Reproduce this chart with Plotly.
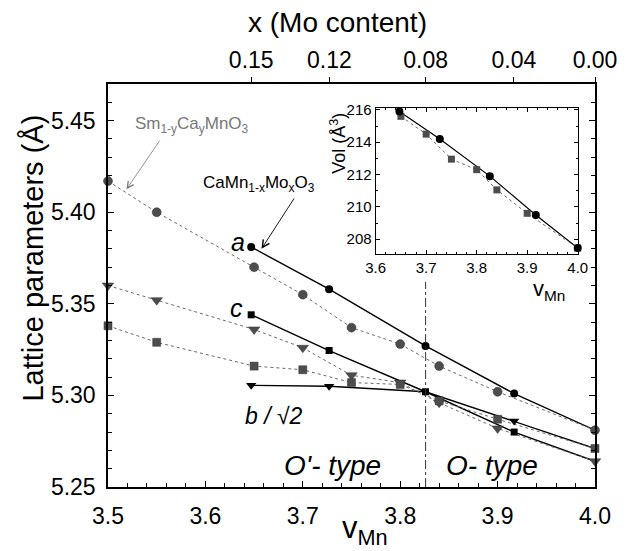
import plotly.graph_objects as go

# ---------------- data ----------------
# Sm(1-y)Ca(y)MnO3 series (gray, dotted)
sm_vmn = [3.50, 3.55, 3.65, 3.70, 3.75, 3.80, 3.84, 3.90, 4.00]
sm_a = [5.417, 5.400, 5.370, 5.355, 5.337, 5.328, 5.316, 5.302, 5.281]
sm_tri = [5.360, 5.352, 5.336, 5.326, 5.311, 5.307, 5.296, 5.282, 5.264]
sm_sq = [5.338, 5.329, 5.316, 5.314, 5.307, 5.306, 5.297, 5.287, 5.271]

# CaMn(1-x)Mo(x)O3 series (black, solid)
mo_vmn = [3.647, 3.727, 3.826, 3.917, 4.000]
mo_a = [5.381, 5.358, 5.327, 5.301, 5.281]
mo_c = [5.344, 5.3245, 5.302, 5.280, 5.264]
mo_b = [5.3055, 5.305, 5.302, 5.286, 5.271]

# top axis (Mo content)
mo_tick_labels = ["0.15", "0.12", "0.08", "0.04", "0.00"]
mo_tick_x = [0.15, 0.12, 0.08, 0.04, 0.00]

# inset: cell volume
inset_mo_vmn = [3.647, 3.727, 3.826, 3.917, 4.000]
inset_mo_vol = [215.9, 214.2, 211.9, 209.5, 207.45]
inset_sm_vmn = [3.65, 3.70, 3.75, 3.80, 3.84, 3.90, 4.00]
inset_sm_vol = [215.6, 214.5, 212.95, 212.3, 211.05, 209.6, 207.45]

FONT = "Liberation Sans, Arial, sans-serif"
GRAY = "#4d4d4d"
DOT = "#6a6a6a"

fig = go.Figure()

# Mo series lines (solid black)
for ys in (mo_a, mo_c, mo_b):
    fig.add_trace(go.Scatter(x=mo_vmn, y=ys, mode="lines",
                             line=dict(color="black", width=1.4),
                             hoverinfo="skip", showlegend=False))

# Sm series dotted lines + gray markers
for ys, sym, sz in ((sm_a, "circle", 9), (sm_tri, "triangle-down", 10), (sm_sq, "square", 8)):
    fig.add_trace(go.Scatter(x=sm_vmn, y=ys, mode="lines+markers",
                             line=dict(color=DOT, width=1, dash="dot"),
                             marker=dict(symbol=sym, size=sz, color=GRAY,
                                         line=dict(color="#333", width=0.5)),
                             cliponaxis=False, showlegend=False))

# Mo markers (black), not at x=0 (shared with CaMnO3)
fig.add_trace(go.Scatter(x=mo_vmn[:4], y=mo_a[:4], mode="markers",
                         marker=dict(symbol="circle", size=8, color="black"),
                         cliponaxis=False, showlegend=False))
fig.add_trace(go.Scatter(x=mo_vmn[:4], y=mo_c[:4], mode="markers",
                         marker=dict(symbol="square", size=7, color="black"),
                         cliponaxis=False, showlegend=False))
fig.add_trace(go.Scatter(x=[mo_vmn[i] for i in (0, 1, 3)], y=[mo_b[i] for i in (0, 1, 3)],
                         mode="markers",
                         marker=dict(symbol="triangle-down", size=9, color="black"),
                         cliponaxis=False, showlegend=False))

# invisible trace on top axis
fig.add_trace(go.Scatter(x=[3.5, 4.0], y=[5.25, 5.25], xaxis="x2", mode="markers",
                         marker=dict(opacity=0), hoverinfo="skip", showlegend=False))

# inset traces
fig.add_trace(go.Scatter(x=inset_mo_vmn, y=inset_mo_vol, xaxis="x3", yaxis="y3",
                         mode="lines", line=dict(color="black", width=1.2),
                         showlegend=False))
fig.add_trace(go.Scatter(x=inset_sm_vmn, y=inset_sm_vol, xaxis="x3", yaxis="y3",
                         mode="lines+markers", line=dict(color=DOT, width=1, dash="dot"),
                         marker=dict(symbol="square", size=7, color=GRAY),
                         cliponaxis=False, showlegend=False))
fig.add_trace(go.Scatter(x=inset_mo_vmn, y=inset_mo_vol, xaxis="x3", yaxis="y3",
                         mode="markers", marker=dict(symbol="circle", size=8, color="black"),
                         cliponaxis=False, showlegend=False))

top_vals = [(4 - 6 * x) / (1 - x) for x in mo_tick_x]

axis_common = dict(showgrid=False, zeroline=False, linecolor="black", linewidth=1.5,
                   tickcolor="black", tickfont=dict(family=FONT, size=23, color="black"))

fig.update_layout(
    width=629, height=551,
    margin=dict(l=108, r=23, t=84, b=64),
    plot_bgcolor="white", paper_bgcolor="white",
    font=dict(family=FONT, color="black"),
    xaxis=dict(range=[3.5, 4.0], tickvals=[3.5, 3.6, 3.7, 3.8, 3.9, 4.0],
               ticktext=["3.5", "3.6", "3.7", "3.8", "3.9", "4.0"],
               ticks="inside", ticklen=6, mirror=True, ticklabelstandoff=8,
               minor=dict(dtick=0.02, ticks="inside", ticklen=4, tickcolor="black"),
               **axis_common),
    yaxis=dict(range=[5.25, 5.47], tickvals=[5.25, 5.30, 5.35, 5.40, 5.45],
               ticktext=["5.25", "5.30", "5.35", "5.40", "5.45"],
               ticks="inside", ticklen=6, mirror="ticks", ticklabelstandoff=6,
               minor=dict(dtick=0.01, ticks="inside", ticklen=4, tickcolor="black"),
               **axis_common),
    xaxis2=dict(overlaying="x", side="top", range=[3.5, 4.0], anchor="y",
                tickvals=top_vals, ticktext=mo_tick_labels,
                ticks="outside", ticklen=6, showline=False, **axis_common),
    xaxis3=dict(domain=[0.5496, 0.9645], anchor="y3", range=[3.6, 4.0],
                tickvals=[3.6, 3.7, 3.8, 3.9, 4.0],
                ticktext=["3.6", "3.7", "3.8", "3.9", "4.0"],
                ticks="inside", ticklen=4, mirror="ticks",
                minor=dict(dtick=0.02, ticks="inside", ticklen=2, tickcolor="black"),
                showgrid=False, zeroline=False, linecolor="black", linewidth=1,
                tickcolor="black", tickfont=dict(family=FONT, size=15, color="black")),
    yaxis3=dict(domain=[0.5777, 0.9398], anchor="x3", range=[207.07, 216.1],
                tickvals=[208, 210, 212, 214, 216],
                ticktext=["208", "210", "212", "214", "216"],
                ticks="inside", ticklen=4, mirror="ticks",
                minor=dict(dtick=1, ticks="inside", ticklen=2, tickcolor="black"),
                showgrid=False, zeroline=False, linecolor="black", linewidth=1,
                tickcolor="black", tickfont=dict(family=FONT, size=15, color="black")),
)

# inset background
fig.add_shape(type="rect", xref="paper", yref="paper", x0=0.5496, x1=0.9645,
              y0=0.5777, y1=0.9398, fillcolor="white", line=dict(width=0), layer="below")

# vertical dash-dot boundary at x = 0.08
fig.add_shape(type="line", xref="x", yref="y", x0=top_vals[2], x1=top_vals[2],
              y0=5.25, y1=5.362, line=dict(color="#333", width=1, dash="dashdot"))


def px(xp, yp):
    return (xp - 108) / 498, (487.3 - yp) / 403.3


def label(text, xp, yp, size, angle=0, color="black"):
    x, y = px(xp, yp)
    return dict(text=text, xref="paper", yref="paper", x=x, y=y, textangle=angle,
                xanchor="center", yanchor="middle", showarrow=False,
                font=dict(size=size, family=FONT, color=color))


def dlabel(text, x, y, size, color="black"):
    return dict(text=text, x=x, y=y, xanchor="center", yanchor="middle",
                showarrow=False, font=dict(size=size, family=FONT, color=color))


ann = []
ann.append(label("Lattice parameters (Å)", 31, 258, 29, angle=-90))
ann.append(label("x (Mo content)", 343, 22, 28))
ann.append(label("v<sub>Mn</sub>", 371, 530, 31))
# inset titles
ann.append(label("Vol (Å<sup>3</sup>)", 344, 143, 18, angle=-90))
ann.append(label("v<sub>Mn</sub>", 559, 290, 22))
# compound labels and arrows
ann.append(dlabel("Sm<sub>1-y</sub>Ca<sub>y</sub>MnO<sub>3</sub>", 3.5863, 5.4475, 17, "#777"))
ann.append(dict(text="", x=3.519, y=5.4125, ax=3.554, ay=5.4398, axref="x", ayref="y",
                showarrow=True, arrowhead=5, arrowsize=1.6, arrowwidth=0.8,
                arrowcolor="#777"))
ann.append(dlabel("CaMn<sub>1-x</sub>Mo<sub>x</sub>O<sub>3</sub>", 3.6546, 5.4155, 17))
ann.append(dict(text="", x=3.6576, y=5.380, ax=3.692, ay=5.4083, axref="x", ayref="y",
                showarrow=True, arrowhead=5, arrowsize=1.6, arrowwidth=0.9,
                arrowcolor="black"))
ann.append(dlabel("<i>a</i>", 3.6335, 5.384, 25))
ann.append(dlabel("<i>c</i>", 3.632, 5.3478, 25))
ann.append(dlabel("<i>b / √2</i>", 3.6707, 5.289, 23))
ann.append(dlabel("<i>O'- type</i>", 3.731, 5.262, 28))
ann.append(dlabel("<i>O- type</i>", 3.8946, 5.262, 28))
fig.update_layout(annotations=ann)

fig.write_html("out.html")
